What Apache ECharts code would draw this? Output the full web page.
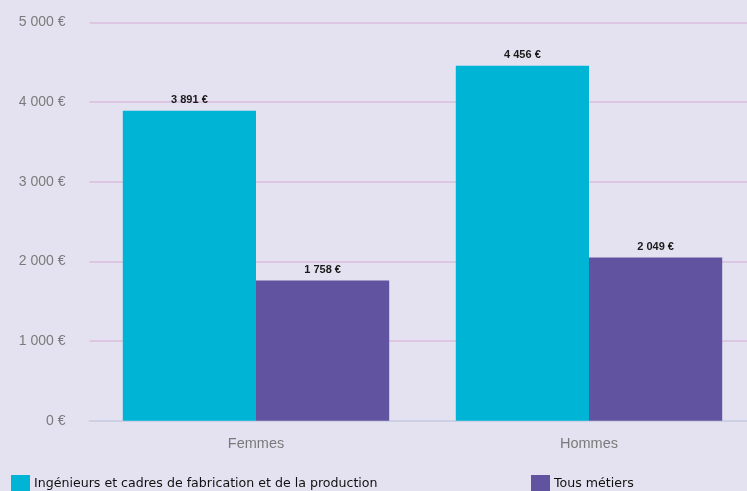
<!DOCTYPE html>
<html>
<head>
<meta charset="utf-8">
<script src="https://cdn.jsdelivr.net/npm/echarts@6/dist/echarts.min.js"></script>
<style>
  html, body { margin: 0; padding: 0; background: #e4e2f1; }
  #chart { width: 747px; height: 491px; }
</style>
</head>
<body>
<div id="chart"></div>
<script>
const categories = ['Femmes', 'Hommes']
const seriesNames = ['Ingénieurs et cadres de fabrication et de la production', 'Tous métiers']
const ingenieurs = [3891, 4456]
const tousMetiers = [1758, 2049]
const colors = ['#00b4d6', '#6153a0']

function fmtEuro(v) {
  return String(v).replace(/\B(?=(\d{3})+(?!\d))/g, ' ') + ' €'
}

const chart = echarts.init(document.getElementById('chart'))

const labelStyle = {
  show: true,
  position: 'top',
  distance: 5,
  color: '#1a1a1a',
  fontFamily: 'Liberation Sans',
  fontWeight: 'bold',
  fontSize: 11,
  formatter: (p) => fmtEuro(p.value),
}

const legendText = { color: '#111', fontFamily: 'DejaVu Sans', fontSize: 12.6, padding: [2, 0, 0, -1] }

chart.setOption({
  backgroundColor: '#e4e2f1',
  animation: false,
  grid: { left: 89.5, top: 22.3, width: 666, height: 398.4, outerBoundsMode: 'none', containLabel: false },
  legend: [
    {
      data: [seriesNames[0]],
      left: 11, top: 475,
      icon: 'rect', itemWidth: 19, itemHeight: 17,
      textStyle: legendText,
      padding: 0,
    },
    {
      data: [seriesNames[1]],
      left: 531, top: 475,
      icon: 'rect', itemWidth: 19, itemHeight: 17,
      textStyle: legendText,
      padding: 0,
    },
  ],
  xAxis: {
    type: 'category',
    data: categories,
    axisLine: { lineStyle: { color: '#ccd0e2', width: 2 } },
    axisTick: { show: false },
    axisLabel: { color: '#7a7a7a', fontFamily: 'Liberation Sans', fontSize: 14.5, margin: 16 },
  },
  yAxis: {
    type: 'value',
    min: 0, max: 5000, interval: 1000,
    axisLine: { show: false },
    axisTick: { show: false },
    splitLine: { lineStyle: { color: '#dcc6e2', width: 2 } },
    axisLabel: {
      color: '#7a7a7a', fontFamily: 'Liberation Sans', fontSize: 14, margin: 24,
      formatter: (v) => fmtEuro(v),
    },
  },
  series: [
    {
      name: seriesNames[0], type: 'bar', data: ingenieurs,
      itemStyle: { color: colors[0] },
      barGap: 0, barCategoryGap: '20%',
      label: labelStyle,
    },
    {
      name: seriesNames[1], type: 'bar', data: tousMetiers,
      itemStyle: { color: colors[1] },
      barGap: 0, barCategoryGap: '20%',
      label: labelStyle,
    },
  ],
})

window.addEventListener('resize', () => chart.resize())
</script>
</body>
</html>
